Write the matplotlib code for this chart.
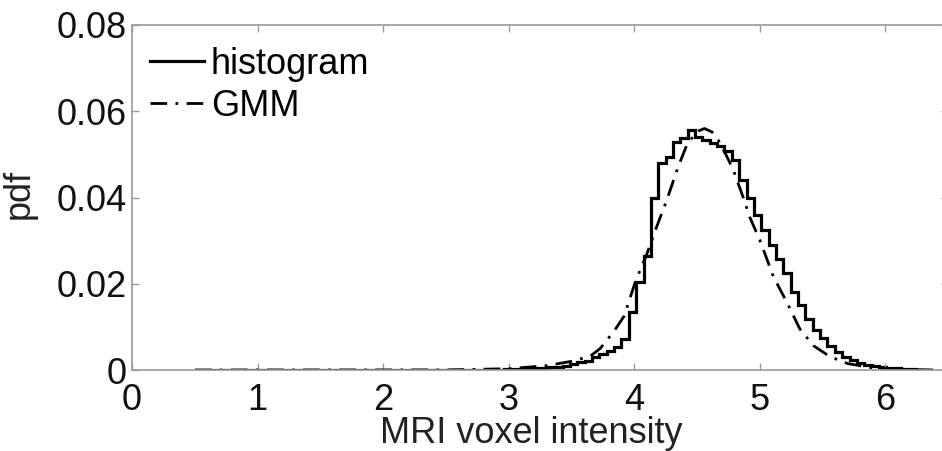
import numpy as np
import matplotlib
matplotlib.use("Agg")
import matplotlib.pyplot as plt

plt.rcParams['font.family'] = ['Liberation Sans', 'DejaVu Sans']

# ---- data ----
hist_start = 0.5
hist_bin_width = 0.0586
# heights of histogram bins (pdf), bin 0 starts at hist_start
hist_low = [0.0] * 30 + [0.00005] * 10 + [0.0001, 0.0001, 0.00015, 0.0002, 0.0002]  # bins 0-44
hist_main = [0.0003, 0.0004, 0.0005, 0.0006, 0.0008, 0.0010, 0.0013, 0.0019, 0.0022, 0.0031,
             0.0036, 0.0044, 0.0054, 0.0072, 0.0135, 0.0205, 0.0265, 0.0398, 0.0479, 0.0495,
             0.0529, 0.0537, 0.0556, 0.0541, 0.0533, 0.0526, 0.0520, 0.0508, 0.0487, 0.0440,
             0.0400, 0.0360, 0.0325, 0.0290, 0.0258, 0.0225, 0.0180, 0.0150, 0.0118, 0.0092,
             0.0075, 0.0055, 0.0042, 0.0030, 0.0023, 0.0017, 0.0012, 0.0009, 0.0006, 0.0005,
             0.0004, 0.0003, 0.0002, 0.0001, 0.0001]  # bins 45-99

gmm_x = [0.5, 2.5, 3.0, 3.3, 3.5, 3.65, 3.73, 3.84, 3.92, 4.01, 4.1, 4.17, 4.26, 4.35, 4.42,
         4.5, 4.56, 4.62, 4.67, 4.73, 4.79, 4.87, 4.92, 5.0, 5.11, 5.22, 5.32, 5.43, 5.56,
         5.7, 5.9, 6.2, 6.4]
gmm_y = [0.0, 0.00002, 0.0003, 0.0010, 0.0020, 0.0032, 0.0050, 0.0090, 0.0125, 0.0205, 0.0268,
         0.0325, 0.0394, 0.0471, 0.0522, 0.0553, 0.0560, 0.0552, 0.0533, 0.0500, 0.0464,
         0.0399, 0.0355, 0.0302, 0.0216, 0.0155, 0.0095, 0.0056, 0.0031, 0.0015, 0.0005,
         0.0001, 0.0]

x_ticks = [0, 1, 2, 3, 4, 5, 6]
y_ticks = [0, 0.02, 0.04, 0.06, 0.08]
y_tick_labels = ['0', '0.02', '0.04', '0.06', '0.08']

# ---- figure ----
fig = plt.figure(figsize=(9.42, 4.51), dpi=100)
ax = fig.add_axes([132 / 942, 81 / 451, 816 / 942, 345 / 451])

heights = np.array(hist_low + hist_main)
edges = hist_start + hist_bin_width * np.arange(len(heights) + 1)
ax.stairs(heights, edges, color='black', linewidth=2.3, label='histogram', baseline=None)
ax.plot(gmm_x, gmm_y, color='black', linewidth=2.0, linestyle=(0, (6, 3, 1, 3)), label='GMM')

ax.set_xlim(0, 6.5)
ax.set_ylim(0, 0.08)
ax.set_xticks(x_ticks)
ax.set_xticklabels([str(t) for t in x_ticks])
ax.set_yticks(y_ticks)
ax.set_yticklabels(y_tick_labels)

spine_col = '#999999'
for s in ax.spines.values():
    s.set_color(spine_col)
    s.set_linewidth(1.2)
ax.tick_params(axis='both', direction='in', length=5, width=1, color=spine_col, labelsize=26,
               labelcolor='#111111', top=True, right=True)
ax.tick_params(axis='x', pad=9)
ax.tick_params(axis='y', pad=4)

ax.set_xlabel('MRI voxel intensity', fontsize=26, color='#222222', labelpad=0)
ax.xaxis.set_label_coords(0.489, -0.133)
ax.set_ylabel('pdf', fontsize=26, color='#222222')
ax.yaxis.set_label_coords(-0.117, 0.51)

leg = ax.legend(loc='upper left', bbox_to_anchor=(-0.005, 1.0), frameon=False, fontsize=26,
                handlelength=1.5, handletextpad=0.2, labelspacing=0.2, borderaxespad=0.2)

fig.savefig('out.png', dpi=100)
